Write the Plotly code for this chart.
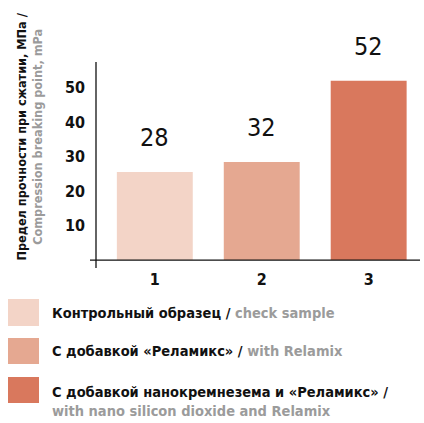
import plotly.graph_objects as go

categories = [1, 2, 3]
bar_heights = [25.5, 28.4, 52.0]
value_labels = ["28", "32", "52"]
tick_vals = [10, 20, 30, 40, 50]
colors = ["#F3D4C7", "#E5A891", "#D9785D"]
legend_ru = ["Контрольный образец /", "С добавкой «Реламикс» /", "С добавкой нанокремнезема и «Реламикс» /"]
legend_en = ["check sample", "with Relamix", "with nano silicon dioxide and Relamix"]
ytitle_ru = "Предел прочности при сжатии, МПа /"
ytitle_en = "Compression breaking point, mPa"

FONT = "DejaVu Sans Condensed, Liberation Sans Narrow, sans-serif"
GREY = "#9b9b9b"

W, H = 424, 423
L, R, T, B = 96, 4, 62, 155
PW, PH = W - L - R, H - T - B


def px(x):
    return (x - L) / PW


def py(y):
    return (H - B - y) / PH


fig = go.Figure(
    go.Bar(x=categories, y=bar_heights, marker=dict(color=colors, line=dict(width=0)),
           width=0.71, hoverinfo="skip")
)

annotations = []
for c, h, t in zip(categories, bar_heights, value_labels):
    annotations.append(dict(x=c, y=h, xref="x", yref="y", text=t, showarrow=False,
                            yanchor="bottom", yshift=18,
                            font=dict(family=FONT, size=25, color="#111")))

annotations.append(dict(
    x=0, y=py(137), xref="paper", yref="paper", xanchor="center", yanchor="middle",
    xshift=28.5 - L, textangle=-90, showarrow=False, align="center",
    text=f"{ytitle_ru}<br><span style='color:{GREY}'>{ytitle_en}</span>",
    font=dict(family=FONT, size=12.6, color="#111", weight="bold")))

shapes = [
    dict(type="line", xref="paper", yref="y", x0=px(90), x1=1, y0=0, y1=0,
         line=dict(color="#111", width=1.3)),
    dict(type="line", xref="paper", yref="paper", x0=0, x1=0, y0=py(268), y1=1,
         line=dict(color="#111", width=1.3)),
]

sq = [(299, 326), (338, 364), (377, 403)]
txt_y = [313, 351, 401.5]
for i in range(3):
    shapes.append(dict(type="rect", xref="paper", yref="paper", x0=px(8), x1=px(39),
                       y0=py(sq[i][0]), y1=py(sq[i][1]), fillcolor=colors[i],
                       line=dict(width=0)))
    sep = "<br>" if i == 2 else " "
    annotations.append(dict(
        x=px(50), y=py(txt_y[i]), xref="paper", yref="paper", xanchor="left",
        yanchor="middle", showarrow=False, align="left",
        text=f"{legend_ru[i]}{sep}<span style='color:{GREY}'>{legend_en[i]}</span>",
        font=dict(family=FONT, size=14.5, color="#111", weight="bold")))

fig.update_layout(
    width=W, height=H, margin=dict(l=L, r=R, t=T, b=B, autoexpand=False),
    paper_bgcolor="white", plot_bgcolor="white", showlegend=False,
    xaxis=dict(range=[0.45, 3.48], tickvals=categories, ticktext=[str(c) for c in categories],
               showgrid=False, zeroline=False, showline=False, ticks="", automargin=False,
               tickfont=dict(family=FONT, size=16, color="#111", weight="bold"), fixedrange=True),
    yaxis=dict(range=[-2.3, 57.4], tickvals=tick_vals, showgrid=False, zeroline=False,
               showline=False, ticks="", ticklabelstandoff=10, automargin=False,
               tickfont=dict(family=FONT, size=16, color="#111", weight="bold"), fixedrange=True),
    annotations=annotations, shapes=shapes,
)

fig.write_html("out.html", config={"displayModeBar": False},
               post_script="document.body.style.margin='0';document.body.style.overflow='hidden';")
